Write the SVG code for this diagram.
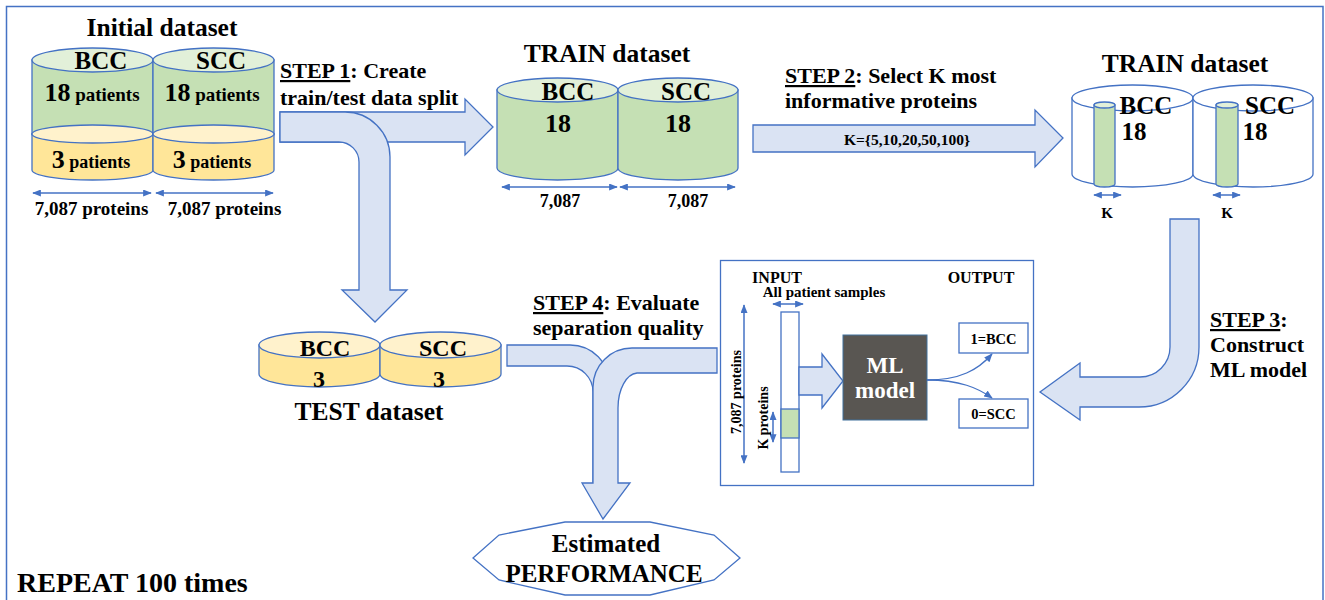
<svg xmlns="http://www.w3.org/2000/svg" width="1325" height="600" viewBox="0 0 1325 600" font-family="'Liberation Serif', Tinos, 'Times New Roman', 'DejaVu Serif', serif">
<defs>
<style>
text { font-family: 'Liberation Serif', Tinos, 'Times New Roman', 'DejaVu Serif', serif; font-weight: bold; fill: #000; }
.mid { text-anchor: middle; }
.h24 { font-size: 25.5px; }
.step { font-size: 22px; }
.cyl { stroke: #4472C4; stroke-width: 1.3; }
.green { fill: #C5E0B4; }
.greenTop { fill: #E2F0D9; }
.yellow { fill: #FFE699; }
.yellowTop { fill: #FFF2CC; }
.white { fill: #FFFFFF; }
.blk { fill: #DAE3F3; stroke: #4472C4; stroke-width: 1.3; stroke-linejoin: miter; }
.dim { stroke: #4472C4; stroke-width: 1.5; fill: none; marker-start: url(#ah); marker-end: url(#ah); }
.curve { stroke: #4472C4; stroke-width: 1.3; fill: none; marker-end: url(#ah); }
.box { fill: #FFFFFF; stroke: #4472C4; stroke-width: 1.3; }
.ul { text-decoration: underline; }
</style>
<marker id="ah" viewBox="0 0 10 8" refX="9" refY="4" markerWidth="9" markerHeight="7" markerUnits="userSpaceOnUse" orient="auto-start-reverse">
<path d="M0,0 L10,4 L0,8 Z" fill="#4472C4"/>
</marker>
</defs>

<!-- outer frame -->
<rect x="6.5" y="6.5" width="1316.5" height="620" fill="#FFFFFF" stroke="#4472C4" stroke-width="1.5"/>

<!-- block arrows -->
<g id="connectors">
  <!-- step 1: split into train (right) and test (down) -->
  <path class="blk" d="M280,112 H465 V99 L493,127 L465,155 V142 H280 Z"/>
  <path class="blk" d="M280,112 H345 A45,45 0 0 1 390,157 V290 H407 L375,322 L342,290 H359 V162 A20,20 0 0 0 339,142 H280 Z"/>
  <!-- step 2 -->
  <path class="blk" d="M753,125 H1035 V110 L1063,138 L1035,167 V152 H753 Z"/>
  <!-- step 3 -->
  <path class="blk" d="M1170,219 H1199 V347 A60,60 0 0 1 1139,407 H1080 V420 L1040,392 L1080,363 V377 H1140 A30,30 0 0 0 1170,347 Z"/>
  <!-- step 4: merge of test set and model -->
  <path class="blk" d="M507,345 H570 A40,40 0 0 1 610,385 V483 H593 V392 A26,26 0 0 0 567,366 H507 Z"/>
  <path class="blk" d="M717,348 H632 A39,39 0 0 0 593,387 V483 H582 L603,519 L630,483 H618 V408 A20,35 0 0 1 637,373 H717 Z"/>
</g>

<!-- initial dataset -->
<g id="initial-dataset">
  <text class="mid h24" x="162" y="36">Initial dataset</text>
  <path class="cyl green" d="M32,60 V134 A60.5,10 0 0 0 153,134 V60 Z"/>
  <ellipse class="cyl greenTop" cx="92.5" cy="60" rx="60.5" ry="12"/>
  <path class="cyl yellow" d="M32,134 V170 A60.5,10 0 0 0 153,170 V134 Z"/>
  <ellipse class="cyl yellowTop" cx="92.5" cy="134" rx="60.5" ry="9"/>
  <path class="cyl green" d="M153,60 V134 A60.5,10 0 0 0 274,134 V60 Z"/>
  <ellipse class="cyl greenTop" cx="213.5" cy="60" rx="60.5" ry="12"/>
  <path class="cyl yellow" d="M153,134 V170 A60.5,10 0 0 0 274,170 V134 Z"/>
  <ellipse class="cyl yellowTop" cx="213.5" cy="134" rx="60.5" ry="9"/>
  <text class="mid" x="101" y="69" font-size="25">BCC</text>
  <text class="mid" x="221" y="69" font-size="25">SCC</text>
  <text class="mid" x="92" y="101"><tspan font-size="26">18</tspan><tspan font-size="19"> patients</tspan></text>
  <text class="mid" x="212" y="101"><tspan font-size="26">18</tspan><tspan font-size="19"> patients</tspan></text>
  <text class="mid" x="91" y="168"><tspan font-size="26">3</tspan><tspan font-size="18"> patients</tspan></text>
  <text class="mid" x="212" y="168"><tspan font-size="26">3</tspan><tspan font-size="18"> patients</tspan></text>
  <line class="dim" x1="33" y1="193" x2="151" y2="193"/>
  <line class="dim" x1="156" y1="193" x2="273" y2="193"/>
  <text class="mid" x="91.5" y="215" font-size="19">7,087 proteins</text>
  <text class="mid" x="224.5" y="215" font-size="19">7,087 proteins</text>
</g>

<!-- train dataset -->
<g id="train-dataset">
  <text class="mid h24" x="607" y="62">TRAIN dataset</text>
  <path class="cyl green" d="M497,90 V168 A60.5,12 0 0 0 618,168 V90 Z"/>
  <ellipse class="cyl greenTop" cx="557.5" cy="90" rx="60.5" ry="12"/>
  <path class="cyl green" d="M618,90 V168 A60,12 0 0 0 738,168 V90 Z"/>
  <ellipse class="cyl greenTop" cx="678" cy="90" rx="60" ry="12"/>
  <text class="mid" x="568" y="100" font-size="25">BCC</text>
  <text class="mid" x="686" y="100" font-size="25">SCC</text>
  <text class="mid" x="558" y="132" font-size="26">18</text>
  <text class="mid" x="678" y="132" font-size="26">18</text>
  <line class="dim" x1="502" y1="187" x2="617" y2="187"/>
  <line class="dim" x1="620" y1="187" x2="735" y2="187"/>
  <text class="mid" x="560" y="207" font-size="18">7,087</text>
  <text class="mid" x="688" y="207" font-size="18">7,087</text>
</g>

<!-- train dataset with selected proteins -->
<g id="train-selected">
  <text class="mid h24" x="1185" y="72">TRAIN dataset</text>
  <path class="cyl white" d="M1072,98 V174 A60.5,13 0 0 0 1193,174 V98 Z"/>
  <ellipse class="cyl white" cx="1132.5" cy="98" rx="60.5" ry="13"/>
  <path class="cyl white" d="M1193,98 V174 A60,13 0 0 0 1313,174 V98 Z"/>
  <ellipse class="cyl white" cx="1253" cy="98" rx="60" ry="13"/>
  <path class="cyl green" d="M1094,105 V184 A10.5,3 0 0 0 1115,184 V105 Z"/>
  <ellipse class="cyl greenTop" cx="1104.5" cy="105" rx="10.5" ry="3"/>
  <path class="cyl green" d="M1216,105 V184 A11,3 0 0 0 1238,184 V105 Z"/>
  <ellipse class="cyl greenTop" cx="1227" cy="105" rx="11" ry="3"/>
  <text class="mid" x="1146" y="114" font-size="25">BCC</text>
  <text class="mid" x="1270" y="114" font-size="25">SCC</text>
  <text class="mid" x="1134" y="140" font-size="25">18</text>
  <text class="mid" x="1255" y="140" font-size="25">18</text>
  <line class="dim" x1="1094" y1="195" x2="1121" y2="195"/>
  <line class="dim" x1="1213" y1="195" x2="1240" y2="195"/>
  <text class="mid" x="1107" y="218" font-size="15">K</text>
  <text class="mid" x="1227" y="218" font-size="15">K</text>
</g>

<!-- test dataset -->
<g id="test-dataset">
  <path class="cyl yellow" d="M259,345 V374 A60.5,13 0 0 0 380,374 V345 Z"/>
  <ellipse class="cyl yellowTop" cx="319.5" cy="345" rx="60.5" ry="13"/>
  <path class="cyl yellow" d="M380,345 V374 A60.5,13 0 0 0 501,374 V345 Z"/>
  <ellipse class="cyl yellowTop" cx="440.5" cy="345" rx="60.5" ry="13"/>
  <text class="mid" x="325" y="356" font-size="24">BCC</text>
  <text class="mid" x="443" y="356" font-size="24">SCC</text>
  <text class="mid" x="319" y="387" font-size="24">3</text>
  <text class="mid" x="439" y="387" font-size="24">3</text>
  <text class="mid h24" x="369" y="420">TEST dataset</text>
</g>

<!-- step labels -->
<g id="step1-label">
  <text class="step" x="280" y="78"><tspan class="ul">STEP 1</tspan>: Create</text>
  <text class="step" x="280" y="105">train/test data split</text>
</g>
<g id="step2-label">
  <text class="step" x="785" y="83"><tspan class="ul">STEP 2</tspan>: Select K most</text>
  <text class="step" x="785" y="108">informative proteins</text>
  <text class="mid" x="907" y="145" font-size="15.5">K={5,10,20,50,100}</text>
</g>
<g id="step3-label">
  <text class="step" x="1210" y="327"><tspan class="ul">STEP 3</tspan>:</text>
  <text class="step" x="1210" y="352">Construct</text>
  <text class="step" x="1210" y="377">ML model</text>
</g>
<g id="step4-label">
  <text class="step" x="533" y="310"><tspan class="ul">STEP 4</tspan>: Evaluate</text>
  <text class="step" x="533" y="335">separation quality</text>
</g>

<!-- ML model panel -->
<g id="ml-panel">
  <rect x="720.5" y="260.5" width="313" height="225" fill="#FFFFFF" stroke="#4472C4" stroke-width="1.3"/>
  <text class="mid" x="777" y="283" font-size="16">INPUT</text>
  <text class="mid" x="981" y="283" font-size="16">OUTPUT</text>
  <text class="mid" x="824" y="297" font-size="15">All patient samples</text>
  <line class="dim" x1="773" y1="304" x2="803" y2="304"/>
  <rect class="box" x="781" y="312" width="18" height="160"/>
  <rect class="cyl green" x="781" y="409" width="18" height="29"/>
  <line class="dim" x1="744" y1="305" x2="744" y2="463"/>
  <text class="mid" font-size="14" transform="translate(741,392) rotate(-90)">7,087 proteins</text>
  <line class="dim" x1="773" y1="412" x2="773" y2="442"/>
  <text class="mid" font-size="14" transform="translate(768,418) rotate(-90)">K proteins</text>
  <path class="blk" d="M799,367 H822 V354 L843,381 L822,408 V395 H799 Z"/>
  <rect x="843" y="335" width="84" height="85" fill="#595652" stroke="#41719C" stroke-width="1"/>
  <text class="mid" x="885" y="373" font-size="23" style="fill:#FFFFFF">ML</text>
  <text class="mid" x="885" y="398" font-size="23" style="fill:#FFFFFF">model</text>
  <path class="curve" d="M927,380 C960,380 978,370 992,354"/>
  <path class="curve" d="M927,380 C960,380 978,388 992,398"/>
  <rect class="box" x="959" y="323" width="69" height="30"/>
  <text class="mid" x="993.5" y="344" font-size="14.5">1=BCC</text>
  <rect class="box" x="959" y="399" width="69" height="29"/>
  <text class="mid" x="993.5" y="419" font-size="14.5">0=SCC</text>
</g>

<!-- result -->
<g id="performance">
  <polygon points="565,522 650,522 714,535 740,558 714,580 650,595 565,595 499,580 473,558 499,535" fill="#FFFFFF" stroke="#4472C4" stroke-width="1.3"/>
  <text class="mid" x="606" y="552" font-size="25">Estimated</text>
  <text class="mid" x="604" y="582" font-size="25">PERFORMANCE</text>
</g>

<g id="repeat-note">
  <text x="17" y="592" font-size="28">REPEAT 100 times</text>
</g>
</svg>
